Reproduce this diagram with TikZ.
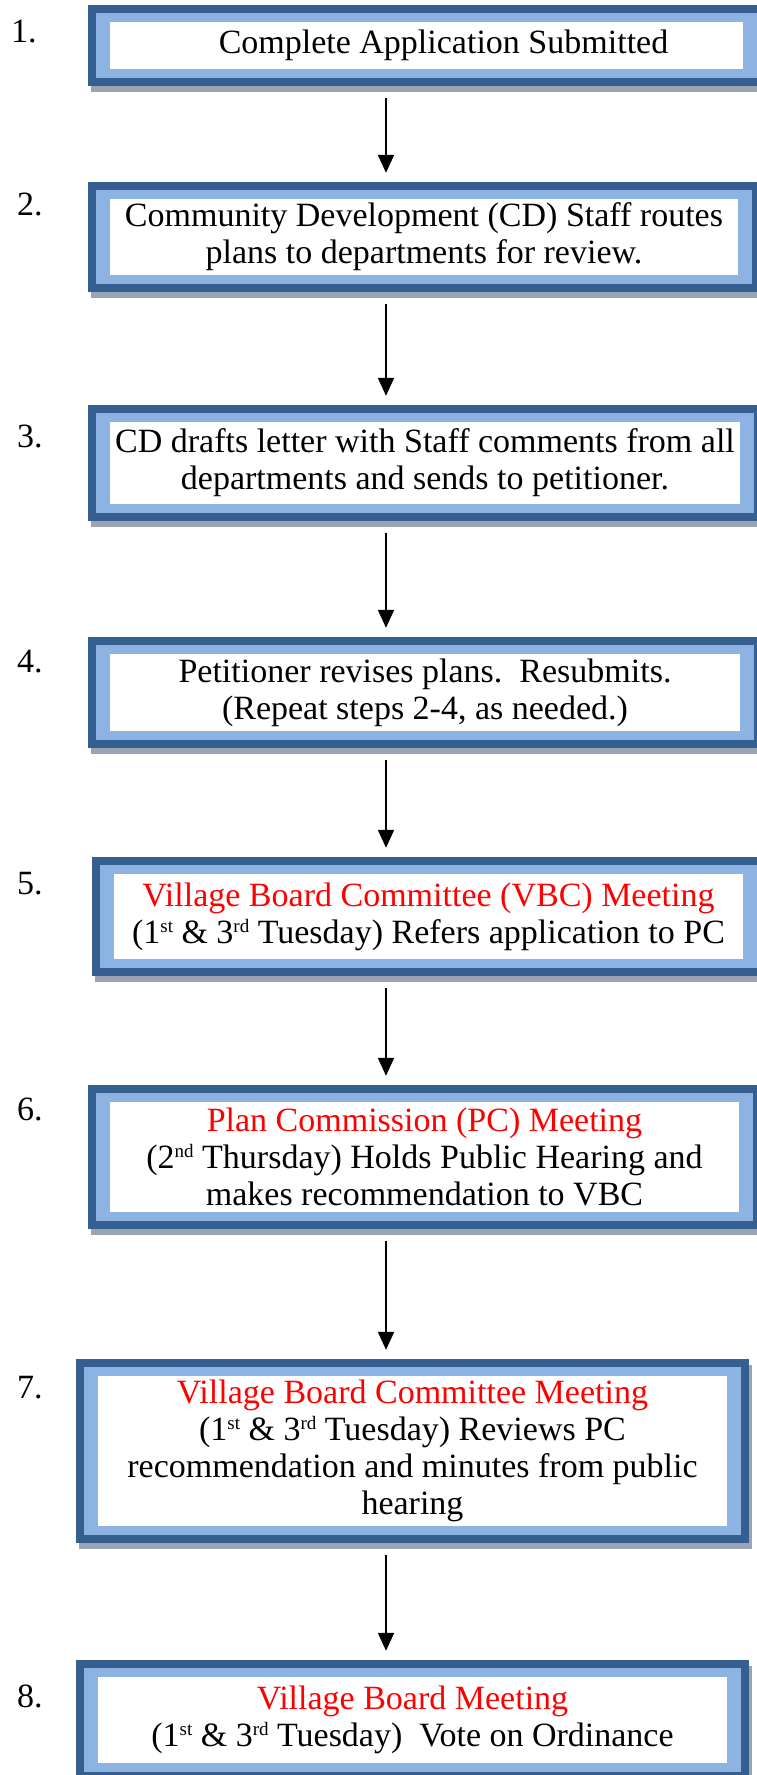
\documentclass[tikz,border=0pt]{standalone}
\usepackage{fontspec}
\setmainfont{Liberation Serif}
\usetikzlibrary{arrows.meta,shadows}

\definecolor{darkband}{HTML}{365F91}
\definecolor{lightband}{HTML}{8DB3E2}
\definecolor{shadowgray}{HTML}{9AA4B2}
\definecolor{meetred}{HTML}{FF0000}

\newcommand{\ord}[1]{\raisebox{11pt}{\fontsize{19}{19}\selectfont #1}}

\tikzset{
  stepbox/.style={rectangle, fill=darkband, inner sep=0pt, align=center,
    drop shadow={shadow xshift=3pt, shadow yshift=-6pt, fill=shadowgray, opacity=1},
    path picture={
      \fill[lightband] ([shift={(8pt,-8pt)}]path picture bounding box.north west) rectangle ([shift={(-8pt,8pt)}]path picture bounding box.south east);
      \fill[white] ([shift={(22pt,-17pt)}]path picture bounding box.north west) rectangle ([shift={(-22pt,17pt)}]path picture bounding box.south east);
    }},
  stepnum/.style={anchor=base west, inner sep=0pt},
  flowarrow/.style={-{Triangle[width=16pt,length=18pt]}, line width=2pt, shorten <=12pt, shorten >=9pt},
}

\begin{document}
\begin{tikzpicture}[x=1pt, y=-1pt, font=\fontsize{34}{37}\selectfont]
		\useasboundingbox (0,0) rectangle (756,1775);
		\coordinate (axis) at (386,0);
		
		\node[stepbox, minimum width=677pt, minimum height=81pt] (s1) at (426.5,45.5) {\hspace*{34pt}Complete Application Submitted};
		\node[stepbox, minimum width=672pt, minimum height=110pt] (s2) at (424,237) {Community Development (CD) Staff routes\\plans to departments for review.};
		\node[stepbox, minimum width=674pt, minimum height=116pt] (s3) at (425,463) {CD drafts letter with Staff comments from all\\departments and sends to petitioner.};
		\node[stepbox, minimum width=674pt, minimum height=111pt] (s4) at (425,692.5) {Petitioner revises plans.~~Resubmits.\\(Repeat steps 2-4, as needed.)};
		\node[stepbox, minimum width=673pt, minimum height=119pt] (s5) at (428.5,916.5) {{\color{meetred}Village Board Committee (VBC) Meeting}\\(1\ord{st} \& 3\ord{rd} Tuesday) Refers application to PC};
		\node[stepbox, minimum width=673pt, minimum height=144pt] (s6) at (424.5,1157) {{\color{meetred}Plan Commission (PC) Meeting}\\(2\ord{nd} Thursday) Holds Public Hearing and\\makes recommendation to VBC};
		\node[stepbox, minimum width=673pt, minimum height=184pt] (s7) at (412.5,1451) {{\color{meetred}Village Board Committee Meeting}\\(1\ord{st} \& 3\ord{rd} Tuesday) Reviews PC\\recommendation and minutes from public\\hearing};
		\node[stepbox, minimum width=673pt, minimum height=120pt] (s8) at (412.5,1720) {{\color{meetred}Village Board Meeting}\\(1\ord{st} \& 3\ord{rd} Tuesday)~~Vote on Ordinance};
		
		\node[stepnum] (n1) at (11,42) {1.};
		\node[stepnum] (n2) at (17,215) {2.};
		\node[stepnum] (n3) at (17,447) {3.};
		\node[stepnum] (n4) at (17,672) {4.};
		\node[stepnum] (n5) at (17,894) {5.};
		\node[stepnum] (n6) at (17,1120) {6.};
		\node[stepnum] (n7) at (17,1398) {7.};
		\node[stepnum] (n8) at (17,1707) {8.};
		
		\draw[flowarrow] (s1.south -| axis) -- (s2.north -| axis);
		\draw[flowarrow] (s2.south -| axis) -- (s3.north -| axis);
		\draw[flowarrow] (s3.south -| axis) -- (s4.north -| axis);
		\draw[flowarrow] (s4.south -| axis) -- (s5.north -| axis);
		\draw[flowarrow] (s5.south -| axis) -- (s6.north -| axis);
		\draw[flowarrow] (s6.south -| axis) -- (s7.north -| axis);
		\draw[flowarrow] (s7.south -| axis) -- (s8.north -| axis);
\end{tikzpicture}
\end{document}
